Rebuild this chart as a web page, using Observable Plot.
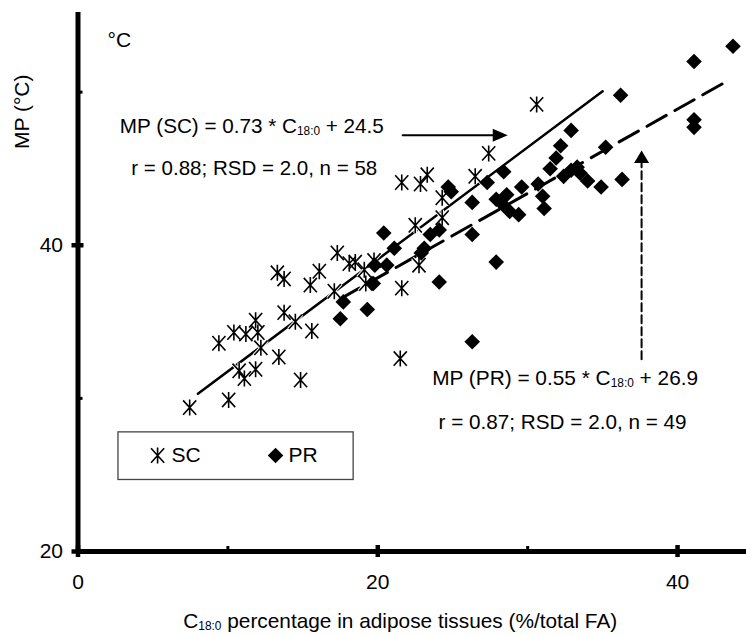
<!DOCTYPE html>
<html><head><meta charset="utf-8">
<script src="https://cdn.jsdelivr.net/npm/d3@7"></script>
<script src="https://cdn.jsdelivr.net/npm/@observablehq/plot@0.6"></script>
<style>
html,body{margin:0;padding:0;background:#fff;}
#chart svg{display:block;}
</style></head><body><div id="chart"></div>
<script>
// SC group (asterisks)
const scC18 = [7.45,10.05,9.4,10.4,11.2,11.85,12.2,10.75,11.85,13.4,14.85,13.75,14.5,15.6,13.3,13.75,15.5,16.1,17.3,17.1,18.1,18.5,19.2,19.75,21.6,22.75,22.5,24.3,24.3,21.6,22.85,23.3,26.5,27.4,30.6,21.5,12.0,11.1,19.1];
const scMP  = [29.4,29.9,33.6,34.3,34.2,35.1,33.3,31.8,31.9,32.7,31.2,35.6,35.0,34.4,38.2,37.8,37.4,38.3,39.5,37.0,38.8,38.9,37.5,39.0,37.2,38.7,41.3,41.8,43.1,44.1,44.0,44.6,44.5,46.0,49.2,32.6,34.3,31.3,38.4];
// PR group (diamonds)
const prC18 = [17.5,17.7,19.3,19.7,19.8,20.6,20.4,21.1,22.9,23.1,23.5,24.1,24.1,24.7,24.9,26.3,26.3,26.3,27.3,27.9,27.9,28.4,28.3,28.6,28.8,29.4,29.6,30.7,31.0,31.1,31.5,31.9,32.2,32.9,32.4,32.9,33.3,33.5,34.0,34.9,35.2,36.2,36.3,41.1,41.1,41.1,43.7];
const prMP  = [35.2,36.3,35.8,37.5,38.7,38.7,40.8,39.8,39.5,39.8,40.7,41.0,37.6,43.8,43.5,42.8,40.7,33.7,44.1,38.9,43.0,44.8,42.7,43.3,42.2,42.0,43.8,44.0,43.2,42.4,45.0,45.7,46.5,47.5,44.5,44.9,45.1,44.7,44.2,43.8,46.4,49.8,44.3,52.0,48.2,47.7,53.0];
// regression lines (end points)
const scFitX = [8, 35];   const scFitY = [30.3, 50.05];
const prFitX = [17.5, 43.4]; const prFitY = [36.5, 50.77];
// ticks
const xTicks = [0, 20, 40]; const xMinor = [10, 30];
const yTicks = [20, 40];    const yMinor = [30, 50];
const seriesNames = ["SC", "PR"];

const sc = scC18.map((x, i) => ({x, y: scMP[i]}));
const pr = prC18.map((x, i) => ({x, y: prMP[i]}));
const scFit = scFitX.map((x, i) => [x, scFitY[i]]);
const prFit = prFitX.map((x, i) => [x, prFitY[i]]);

const starSym = {draw(ctx, size){ const r = Math.sqrt(size/Math.PI); const a = r*0.82, b = r*0.9;
  ctx.moveTo(0,-r); ctx.lineTo(0,r); ctx.moveTo(-a,-b); ctx.lineTo(a,b); ctx.moveTo(-a,b); ctx.lineTo(a,-b);}};
const diaSym = {draw(ctx, size){ const r = Math.sqrt(size/Math.PI);
  ctx.moveTo(0,-r); ctx.lineTo(r,0); ctx.lineTo(0,r); ctx.lineTo(-r,0); ctx.closePath();}};
const headSym = (len, hw) => ({draw(ctx){ ctx.moveTo(0,0); ctx.lineTo(-len,-hw); ctx.lineTo(-len,hw); ctx.closePath(); }});

const F = 21;
const svg = Plot.plot({
  width: 746, height: 636,
  marginLeft: 77.5, marginRight: 0, marginTop: 12, marginBottom: 85,
  x: {domain: [0, 44.6], label: null},
  y: {domain: [20, 55.2], label: null},
  style: {fontFamily: "'Liberation Sans', Arial, sans-serif", fontSize: F + "px", background: "white", color: "black"},
  marks: [
    Plot.line(scFit, {stroke: "black", strokeWidth: 2.5}),
    Plot.line(prFit, {stroke: "black", strokeWidth: 3, strokeDasharray: "22,10"}),
    Plot.dot(sc, {x: "x", y: "y", symbol: starSym, r: 8, stroke: "white", strokeWidth: 3.5, fill: "none"}),
    Plot.dot(sc, {x: "x", y: "y", symbol: starSym, r: 8, stroke: "black", strokeWidth: 1.6, fill: "none"}),
    Plot.dot(pr, {x: "x", y: "y", symbol: diaSym, r: 7.8, fill: "black", stroke: "none"}),
    // annotation arrows
    Plot.line([[21.66, 47.19], [27.8, 47.19]], {stroke: "black", strokeWidth: 2}),
    Plot.dot([0], {x: 28.67, y: 47.19, symbol: headSym(15, 6.5), r: 1, fill: "black", stroke: "none"}),
    Plot.line([[37.6, 32.55], [37.6, 45.4]], {stroke: "black", strokeWidth: 2, strokeDasharray: "8,4"}),
    Plot.dot([0], {x: 37.6, y: 46.18, symbol: headSym(12.5, 7.5), r: 1, rotate: -90, fill: "black", stroke: "none"}),
    // annotation texts
    Plot.text(["°C"], {x: 1.97, y: 53.37, textAnchor: "start", fontSize: F}),
    Plot.text(["MP (SC) = 0.73 * C18:0 + 24.5"], {x: 11.6, y: 47.74, fontSize: F}),
    Plot.text(["r = 0.88; RSD = 2.0, n = 58"], {x: 11.76, y: 45.01, fontSize: F}),
    Plot.text(["MP (PR) = 0.55 * C18:0 + 26.9"], {x: 32.5, y: 31.32, fontSize: F}),
    Plot.text(["r = 0.87; RSD = 2.0, n = 49"], {x: 32.33, y: 28.44, fontSize: F}),
    // legend
    Plot.rect([0], {x1: 2.7, x2: 18.39, y1: 24.67, y2: 27.78, fill: "white", stroke: "#444", strokeWidth: 1.3}),
    Plot.dot([0], {x: 5.31, y: 26.27, symbol: starSym, r: 8, stroke: "black", strokeWidth: 1.6, fill: "none"}),
    Plot.dot([0], {x: 13.18, y: 26.27, symbol: diaSym, r: 7.8, fill: "black", stroke: "none"}),
    Plot.text([seriesNames[0]], {x: 6.24, y: 26.27, textAnchor: "start", fontSize: F}),
    Plot.text([seriesNames[1]], {x: 14.05, y: 26.27, textAnchor: "start", fontSize: F}),
    // axes
    Plot.ruleY([20], {strokeWidth: 5}),
    Plot.ruleX([0], {y1: 20, y2: 55.2, strokeWidth: 5}),
    Plot.axisY({ticks: yTicks, tickSize: 0, tickPadding: 15, fontSize: F, label: null}),
    Plot.axisY({ticks: yTicks, tickSize: 12, dx: 6, tickFormat: () => "", strokeWidth: 4.5, label: null}),
    Plot.axisY({ticks: yMinor, tickSize: 5, dx: 5, tickFormat: () => "", strokeWidth: 3, label: null}),
    Plot.axisX({ticks: xTicks, tickSize: 0, tickPadding: 23, fontSize: F, label: null}),
    Plot.axisX({ticks: xTicks, tickSize: 12, dy: -6, tickFormat: () => "", strokeWidth: 4.5, label: null}),
    Plot.axisX({ticks: xMinor, tickSize: 5, dy: -5, tickFormat: () => "", strokeWidth: 3, label: null}),
    // axis titles
    Plot.text(["MP (°C)"], {x: -3.745, y: 48.72, rotate: -90, fontSize: F}),
    Plot.text(["C18:0 percentage in adipose tissues (%/total FA)"], {x: 21.5, y: 15.44, fontSize: F})
  ]
});

// fitted widths of long texts
const textWidths = [["MP (SC)", 264], ["r = 0.88", 246], ["MP (PR)", 266], ["r = 0.87", 248], ["percentage", 434]];
d3.select(svg).selectAll("text").each(function(){
  const t = this.textContent;
  if (this.querySelector("tspan")) return;
  const w = textWidths.find(([k]) => t.includes(k));
  const sel = d3.select(this);
  const i = t.indexOf("C18:0");
  if (i >= 0) {
    sel.text(null);
    sel.append("tspan").text(t.slice(0, i + 1));
    sel.append("tspan").attr("font-size", "12px").attr("dy", 2).text("18:0");
    sel.append("tspan").attr("dy", -2).text(t.slice(i + 5));
  }
  if (w) sel.attr("textLength", w[1]).attr("lengthAdjust", "spacingAndGlyphs");
});
document.getElementById("chart").appendChild(svg);
</script></body></html>
